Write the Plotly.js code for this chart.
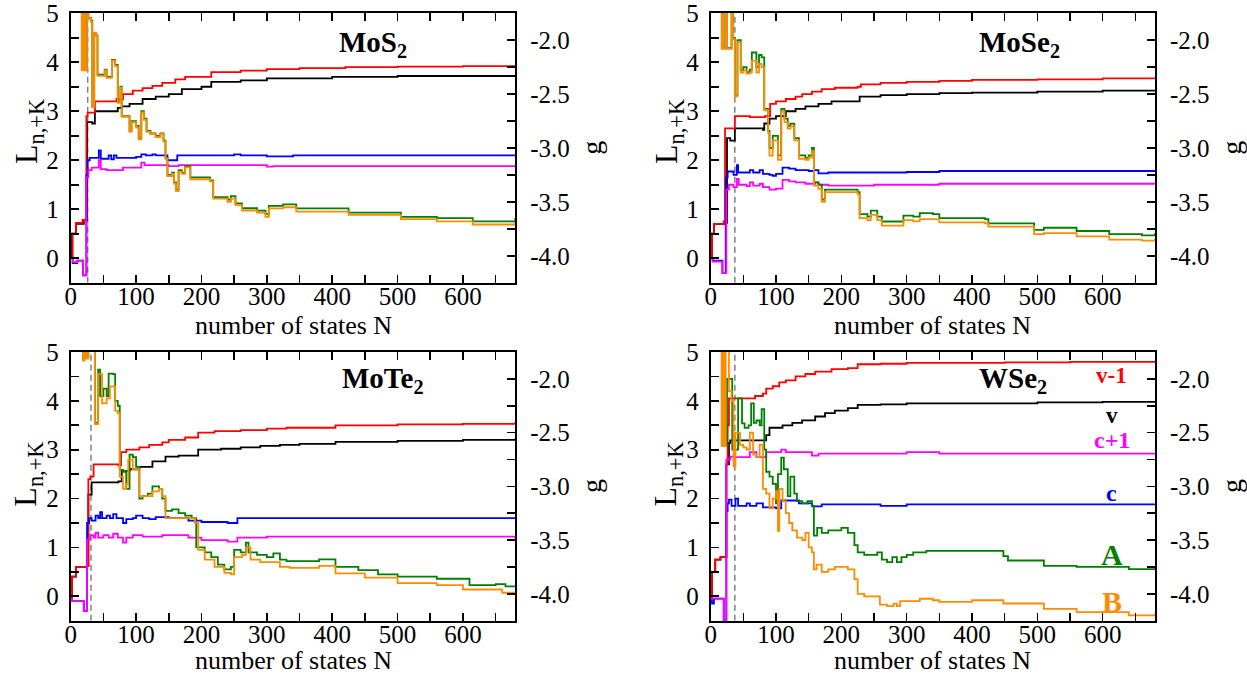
<!DOCTYPE html>
<html>
<head>
<meta charset="utf-8">
<script src="https://cdn.plot.ly/plotly-3.0.1.min.js"></script>
<style>html,body{margin:0;padding:0;background:#fff}#chart{width:1247px;height:677px}</style>
</head>
<body>
<div id="chart"></div>
<script>
// ---------------- DATA ----------------
const panelNames = ['MoS<sub>2</sub>', 'MoSe<sub>2</sub>', 'MoTe<sub>2</sub>', 'WSe<sub>2</sub>'];
const cutoffN = [26, 37, 31, 37];
const seriesLabels = ['v-1', 'v', 'c+1', 'c', 'A', 'B'];
const xTitle = 'number of states N';
const yLeftTitle = 'L<sub>n,+K</sub>';
const yRightTitle = 'g';

const xTickVals = [0, 100, 200, 300, 400, 500, 600];
const xTickText = ['0', '100', '200', '300', '400', '500', '600'];
const xMinorVals = [50, 150, 250, 350, 450, 550, 650];
const lTickVals = [0, 1, 2, 3, 4, 5];
const lTickText = ['0', '1', '2', '3', '4', '5'];
const lMinorVals = [0.5, 1.5, 2.5, 3.5, 4.5];
const gTickVals = [-4.0, -3.5, -3.0, -2.5, -2.0];
const gTickText = ['-4.0', '-3.5', '-3.0', '-2.5', '-2.0'];
const gMinorVals = [-3.75, -3.25, -2.75, -2.25];

// ---- MoS2 ----
const mos2_N_v1 = [0,3,8,18,24,26,37,70,80,95,110,125,140,160,175,215,260,300,350,420,500,600,680];
const mos2_L_v1 = [0,0.5,0.72,0.78,2.9,2.97,3.2,3.25,3.35,3.42,3.47,3.52,3.58,3.65,3.7,3.8,3.83,3.86,3.88,3.9,3.91,3.92,3.93];
const mos2_N_v = [0,2,8,20,25,33,37,72,78,90,110,130,150,170,200,215,260,300,400,500,680];
const mos2_L_v = [0,0.5,0.7,0.78,2.78,2.75,3.0,3.07,3.1,3.15,3.25,3.3,3.35,3.45,3.5,3.6,3.63,3.67,3.7,3.72,3.73];
const mos2_N_c = [0,3,10,19,24,26,29,43,46,58,62,66,70,100,108,115,125,130,148,163,250,260,300,340,680];
const mos2_L_c = [0,-0.1,-0.05,-0.35,1.7,2.0,2.05,2.2,2.03,2.1,2.02,2.1,2.05,2.07,2.12,2.1,2.12,2.1,2.0,2.1,2.12,2.1,2.08,2.1,2.09];
const mos2_N_c1 = [0,3,10,19,24,27,32,43,46,55,80,108,113,150,165,300,310,680];
const mos2_L_c1 = [0,-0.08,-0.05,-0.35,1.65,1.8,1.85,2.0,1.82,1.8,1.85,1.95,1.9,1.88,1.9,1.87,1.88,1.86];
const mos2_N_A = [15,17,20,23,25,27,31,33,36,39,41,52,55,63,68,72,76,78,90,93,100,104,108,112,116,122,130,137,142,145,148,155,158,161,165,170,175,183,213,218,240,245,252,262,285,298,303,325,345,425,505,560,615,670,680];
const mos2_g_A = [-1.5,-2.273,-1.5,-2.273,-1.5,-1.796,-1.819,-2.614,-1.932,-1.955,-2.319,-2.273,-2.341,-2.182,-2.228,-2.569,-2.432,-2.705,-2.841,-2.75,-2.796,-2.909,-2.659,-2.728,-2.841,-2.864,-2.887,-2.864,-2.932,-3.091,-3.25,-3.228,-3.319,-3.387,-3.205,-3.228,-3.169,-3.273,-3.3,-3.455,-3.478,-3.446,-3.514,-3.559,-3.582,-3.614,-3.537,-3.523,-3.56,-3.60,-3.64,-3.65,-3.68,-3.68,-3.65];
const mos2_N_B = [15,17,19,22,25,27,31,33,36,39,41,52,55,63,68,72,76,78,90,93,100,104,108,112,116,122,130,137,142,145,148,155,158,161,165,170,175,183,213,218,240,245,252,262,285,298,303,325,345,425,505,560,615,670,680];
const mos2_g_B = [-1.5,-2.28,-1.5,-2.28,-1.5,-1.80,-1.83,-2.62,-1.93,-1.96,-2.33,-2.28,-2.35,-2.19,-2.24,-2.58,-2.44,-2.71,-2.85,-2.76,-2.81,-2.92,-2.67,-2.74,-2.85,-2.87,-2.90,-2.87,-2.94,-3.10,-3.26,-3.24,-3.33,-3.40,-3.22,-3.24,-3.18,-3.29,-3.31,-3.47,-3.50,-3.47,-3.53,-3.58,-3.60,-3.64,-3.56,-3.55,-3.59,-3.62,-3.66,-3.68,-3.71,-3.71,-3.69];

// ---- MoSe2 ----
const mose2_N_v1 = [0,2,5,20,22,28,37,60,83,91,100,115,130,140,155,170,190,225,230,260,300,350,400,500,600,680];
const mose2_L_v1 = [0,0.5,0.7,0.75,2.65,2.65,2.9,2.88,2.9,3.15,3.2,3.25,3.3,3.35,3.4,3.45,3.48,3.5,3.55,3.58,3.6,3.62,3.64,3.65,3.67,3.68];
const mose2_N_v = [0,2,5,22,25,30,37,80,82,90,100,115,130,145,165,185,228,260,300,350,400,500,600,680];
const mose2_L_v = [0,0.5,0.7,0.72,2.45,2.4,2.65,2.62,2.75,2.85,2.9,3.0,3.05,3.1,3.15,3.2,3.3,3.33,3.35,3.37,3.38,3.4,3.42,3.43];
const mose2_N_c = [0,3,18,23,26,35,40,42,55,60,65,75,80,90,95,100,110,120,130,150,158,165,180,250,300,350,680];
const mose2_L_c = [0,-0.05,-0.3,1.65,1.77,1.7,1.9,1.75,1.75,1.8,1.75,1.8,1.72,1.7,1.68,1.72,1.85,1.83,1.8,1.78,1.8,1.73,1.75,1.75,1.76,1.78,1.79];
const mose2_N_c1 = [0,3,18,24,28,35,40,43,55,60,65,75,80,90,100,110,120,130,145,160,165,180,250,350,680];
const mose2_L_c1 = [0,-0.07,-0.3,1.4,1.5,1.45,1.62,1.5,1.47,1.55,1.48,1.52,1.45,1.4,1.42,1.6,1.57,1.55,1.52,1.55,1.5,1.48,1.5,1.52,1.52];
const mose2_N_A = [16,17,19,20,24,25,32,34,37,41,46,50,55,60,63,70,74,78,82,88,90,95,103,108,113,118,122,128,135,145,150,155,158,165,170,175,225,228,240,245,255,262,290,295,310,320,340,350,420,425,495,510,560,610,660,680];
const mose2_g_A = [-1.5,-2.073,-1.5,-2.073,-1.5,-2.073,-1.5,-1.98,-2.51,-2.0,-2.278,-2.25,-2.296,-2.273,-2.114,-2.25,-2.137,-2.16,-2.637,-2.841,-3.0,-2.887,-3.068,-2.637,-2.728,-2.796,-2.773,-2.909,-3.068,-3.091,-3.068,-3.0,-3.319,-3.341,-3.478,-3.387,-3.409,-3.614,-3.637,-3.582,-3.637,-3.682,-3.682,-3.628,-3.637,-3.605,-3.614,-3.65,-3.66,-3.70,-3.76,-3.74,-3.77,-3.80,-3.81,-3.79];
const mose2_N_B = [16,17,19,20,24,25,32,34,37,41,46,50,55,60,63,70,74,78,82,88,90,95,103,108,113,118,122,128,135,145,150,155,158,165,170,175,225,228,240,245,255,262,290,295,310,320,340,350,420,425,495,510,560,610,660,680];
const mose2_g_B = [-1.5,-2.08,-1.5,-2.08,-1.5,-2.08,-1.5,-1.99,-2.52,-2.02,-2.30,-2.28,-2.31,-2.30,-2.19,-2.30,-2.22,-2.25,-2.65,-2.86,-3.07,-2.93,-3.11,-2.66,-2.76,-2.82,-2.80,-2.93,-3.10,-3.11,-3.09,-3.03,-3.35,-3.38,-3.50,-3.41,-3.43,-3.65,-3.67,-3.62,-3.67,-3.72,-3.72,-3.67,-3.68,-3.66,-3.66,-3.69,-3.70,-3.73,-3.80,-3.79,-3.82,-3.85,-3.86,-3.84];

// ---- MoTe2 ----
const mote2_N_v1 = [0,2,8,25,27,30,35,73,77,85,105,120,140,150,175,195,220,260,300,330,405,500,600,680];
const mote2_L_v1 = [0,0.4,0.6,0.62,2.4,2.45,2.7,2.68,2.95,3.0,3.05,3.1,3.15,3.2,3.25,3.35,3.38,3.4,3.43,3.45,3.5,3.52,3.53,3.57];
const mote2_N_v = [0,2,8,25,27,32,73,78,90,105,125,145,165,195,230,260,290,320,350,405,500,600,680];
const mote2_L_v = [0,0.4,0.6,0.62,2.08,2.33,2.35,2.56,2.6,2.65,2.76,2.86,2.88,3.0,3.02,3.05,3.08,3.1,3.12,3.16,3.18,3.2,3.23];
const mote2_N_c = [0,2,20,25,28,32,38,42,45,48,55,60,65,70,80,85,95,100,110,120,130,150,180,200,240,255,680];
const mote2_L_c = [0,-0.1,-0.3,1.5,1.6,1.55,1.65,1.6,1.72,1.6,1.65,1.6,1.68,1.6,1.5,1.58,1.6,1.65,1.6,1.58,1.62,1.6,1.55,1.52,1.5,1.6,1.59];
const mote2_N_c1 = [0,2,20,25,30,35,38,42,50,58,65,72,80,85,95,110,140,180,200,240,255,300,680];
const mote2_L_c1 = [0,-0.1,-0.3,1.16,1.25,1.2,1.3,1.2,1.25,1.2,1.28,1.2,1.1,1.2,1.25,1.22,1.25,1.2,1.15,1.12,1.2,1.22,1.19];
const mote2_N_A = [15,19,21,24,27,37,42,45,50,55,58,65,68,72,75,80,85,90,95,100,105,110,118,125,135,140,145,155,165,175,185,192,205,215,225,235,245,250,260,268,272,285,300,310,320,330,380,405,440,470,500,530,560,610,650,665,680];
const mote2_g_A = [-1.5,-1.819,-1.5,-1.796,-1.5,-2.409,-1.914,-2.159,-2.091,-2.159,-1.95,-1.955,-2.205,-2.25,-2.846,-2.864,-3.023,-2.705,-2.728,-2.819,-3.114,-3.091,-3.068,-3.0,-3.023,-3.114,-3.228,-3.214,-3.25,-3.273,-3.296,-3.568,-3.614,-3.659,-3.728,-3.773,-3.75,-3.591,-3.614,-3.523,-3.614,-3.637,-3.659,-3.623,-3.682,-3.696,-3.68,-3.75,-3.78,-3.82,-3.84,-3.84,-3.86,-3.92,-3.91,-3.93,-3.93];
const mote2_N_B = [15,19,21,24,27,37,42,48,55,60,68,72,75,80,85,88,95,105,115,125,135,140,145,190,195,205,220,235,245,250,262,268,275,290,310,320,335,380,405,450,500,560,600,660,680];
const mote2_g_B = [-1.5,-1.83,-1.5,-1.81,-1.5,-2.42,-1.955,-2.228,-2.182,-2.069,-2.296,-2.319,-2.909,-3.023,-2.977,-2.75,-2.841,-3.091,-3.091,-3.046,-3.023,-3.091,-3.296,-3.341,-3.591,-3.682,-3.75,-3.805,-3.819,-3.659,-3.637,-3.568,-3.682,-3.705,-3.705,-3.75,-3.759,-3.74,-3.81,-3.85,-3.90,-3.92,-3.96,-3.99,-4.01];

// ---- WSe2 ----
const wse2_N_v1 = [0,2,7,15,24,26,28,55,68,80,85,95,105,115,130,145,160,185,210,225,260,300,350,450,550,680];
const wse2_L_v1 = [0,0.5,0.75,0.8,2.7,3.5,4.05,4.05,4.1,4.15,4.25,4.3,4.38,4.42,4.5,4.55,4.6,4.65,4.67,4.75,4.76,4.78,4.78,4.79,4.8,4.81];
const wse2_N_v = [0,2,7,15,24,28,30,85,90,110,125,140,160,175,190,210,225,260,300,400,500,600,680];
const wse2_L_v = [0,0.5,0.75,0.8,2.7,3.14,3.19,3.3,3.45,3.5,3.55,3.6,3.68,3.75,3.8,3.85,3.92,3.93,3.95,3.95,3.97,3.98,3.99];
const wse2_N_c = [0,2,5,20,24,26,28,32,38,42,55,60,70,80,100,108,135,155,170,260,300,680];
const wse2_L_c = [0,-0.15,-0.05,-0.5,1.75,1.9,1.98,1.85,2.0,1.85,1.9,1.85,1.9,1.82,1.8,1.96,1.9,1.84,1.88,1.85,1.88,1.89];
const wse2_N_c1 = [0,2,20,24,30,35,60,70,85,108,115,155,165,300,350,680];
const wse2_L_c1 = [0,-0.05,-0.5,2.8,2.86,2.85,2.95,2.85,2.95,3.0,2.95,2.88,2.92,2.95,2.92,2.9];
const wse2_N_A = [15,17,19,22,25,33,42,48,52,58,62,66,70,75,78,82,85,90,95,100,103,108,112,118,122,128,132,140,148,155,158,163,170,180,200,210,220,225,235,255,262,270,278,285,292,300,310,330,448,455,510,560,640,680];
const wse2_g_A = [-1.5,-2.62,-1.5,-2.62,-2.0,-2.659,-2.182,-2.414,-2.455,-2.432,-2.228,-2.409,-2.387,-2.432,-2.282,-2.659,-2.864,-2.909,-2.977,-3.159,-2.887,-2.732,-2.841,-3.091,-2.909,-3.068,-3.137,-3.159,-3.137,-3.182,-3.459,-3.387,-3.432,-3.409,-3.387,-3.432,-3.546,-3.614,-3.637,-3.614,-3.682,-3.705,-3.659,-3.705,-3.659,-3.637,-3.614,-3.60,-3.65,-3.69,-3.74,-3.75,-3.77,-3.76];
const wse2_N_B = [15,17,19,21,23,28,32,35,38,45,50,55,60,65,70,75,80,85,90,95,100,103,105,110,115,120,125,132,140,145,150,155,158,162,170,180,190,210,220,225,235,259,270,280,285,290,320,340,350,400,448,510,560,640,680];
const wse2_g_B = [-1.5,-2.62,-1.5,-2.62,-1.5,-2.114,-2.205,-2.814,-2.5,-2.614,-2.637,-2.659,-2.5,-2.705,-2.728,-2.614,-3.023,-3.068,-3.205,-3.114,-3.046,-3.414,-3.023,-3.137,-3.25,-3.341,-3.409,-3.478,-3.5,-3.432,-3.568,-3.614,-3.773,-3.728,-3.796,-3.773,-3.75,-3.773,-3.864,-4.0,-4.023,-4.1,-4.114,-4.091,-4.114,-4.068,-4.046,-4.06,-4.075,-4.06,-4.09,-4.14,-4.17,-4.20,-4.18];

// ---------------- STYLE / BUILD ----------------
const colors = {v1: '#ff0000', v: '#000000', c: '#0000ff', c1: '#ff00ff', A: '#008000', B: '#ff8c00'};
const FONT = 'Liberation Serif';

const panels = [
  {v1: [mos2_N_v1, mos2_L_v1], v: [mos2_N_v, mos2_L_v], c: [mos2_N_c, mos2_L_c], c1: [mos2_N_c1, mos2_L_c1], A: [mos2_N_A, mos2_g_A], B: [mos2_N_B, mos2_g_B]},
  {v1: [mose2_N_v1, mose2_L_v1], v: [mose2_N_v, mose2_L_v], c: [mose2_N_c, mose2_L_c], c1: [mose2_N_c1, mose2_L_c1], A: [mose2_N_A, mose2_g_A], B: [mose2_N_B, mose2_g_B]},
  {v1: [mote2_N_v1, mote2_L_v1], v: [mote2_N_v, mote2_L_v], c: [mote2_N_c, mote2_L_c], c1: [mote2_N_c1, mote2_L_c1], A: [mote2_N_A, mote2_g_A], B: [mote2_N_B, mote2_g_B]},
  {v1: [wse2_N_v1, wse2_L_v1], v: [wse2_N_v, wse2_L_v], c: [wse2_N_c, wse2_L_c], c1: [wse2_N_c1, wse2_L_c1], A: [wse2_N_A, wse2_g_A], B: [wse2_N_B, wse2_g_B]}
];

const xDomains = [[0.0567, 0.4132], [0.5699, 0.9262], [0.0567, 0.4132], [0.5699, 0.9262]];
const yDomains = [[0.5824, 0.9804], [0.5824, 0.9804], [0.0832, 0.48], [0.0832, 0.48]];
// paper positions of axis titles
const xTitlePos = [[0.235, 0.5185, 'middle'], [0.748, 0.5185, 'middle'], [0.235, 0.0, 'bottom'], [0.748, 0.0, 'bottom']];
const yLeftTitlePos = [[0.0225, 0.805], [0.5357, 0.805], [0.0225, 0.299], [0.5357, 0.299]];
const yRightTitlePos = [[0.4745, 0.7814], [0.9877, 0.7814], [0.4745, 0.2816], [0.9877, 0.2816]];
const panelTitlePos = [[0.68, 0.885], [0.696, 0.885], [0.703, 0.895], [0.68, 0.895]];

const traces = [];
const layout = {
  width: 1247, height: 677,
  margin: {l: 0, r: 0, t: 0, b: 0},
  paper_bgcolor: '#ffffff', plot_bgcolor: 'rgba(0,0,0,0)',
  showlegend: false,
  font: {family: FONT, size: 25, color: '#000'},
  annotations: []
};

function lineTrace(xs, ys, xa, ya, color, dash, width) {
  return {x: xs, y: ys, xaxis: xa, yaxis: ya, type: 'scatter', mode: 'lines',
    line: {color: color, width: width || 1.8, shape: dash ? 'linear' : 'hv', dash: dash || 'solid'},
    hoverinfo: 'skip'};
}
function ann(text, x, y, size, color, angle, extra) {
  return Object.assign({xref: 'paper', yref: 'paper', x: x, y: y, text: text, showarrow: false,
    xanchor: 'center', yanchor: 'middle', textangle: angle || 0,
    font: {family: FONT, size: size, color: color || '#000'}}, extra || {});
}

panels.forEach((p, i) => {
  const xa = 'x' + (i === 0 ? '' : i + 1);
  const yl = 'y' + (i === 0 ? '' : 2 * i + 1);
  const yr = 'y' + (2 * i + 2);
  const xk = 'xaxis' + (i === 0 ? '' : i + 1);
  const ylk = 'yaxis' + (i === 0 ? '' : 2 * i + 1);
  const yrk = 'yaxis' + (2 * i + 2);

  traces.push(lineTrace([cutoffN[i], cutoffN[i]], [-0.5, 5], xa, yl, '#808080', '6px,4px', 1.5));
  traces.push(lineTrace(p.v[0], p.v[1], xa, yl, colors.v));
  traces.push(lineTrace(p.v1[0], p.v1[1], xa, yl, colors.v1));
  traces.push(lineTrace(p.c[0], p.c[1], xa, yl, colors.c));
  traces.push(lineTrace(p.c1[0], p.c1[1], xa, yl, colors.c1));
  traces.push(lineTrace(p.A[0], p.A[1], xa, yr, colors.A));
  traces.push(lineTrace(p.B[0], p.B[1], xa, yr, colors.B));

  const common = {showgrid: false, zeroline: false, showline: true, linecolor: '#000', linewidth: 2,
    ticks: 'inside', ticklen: 8, tickwidth: 1.6, tickcolor: '#000',
    tickfont: {family: FONT, size: 25, color: '#000'}, fixedrange: true, tickmode: 'array'};
  const minor = (vals) => ({tickmode: 'array', tickvals: vals, ticks: 'inside', ticklen: 8, tickwidth: 1.6, tickcolor: '#000', showgrid: false});

  layout[xk] = Object.assign({}, common, {
    domain: xDomains[i], anchor: yl, range: [0, 680], mirror: 'ticks',
    tickvals: xTickVals, ticktext: xTickText, minor: minor(xMinorVals), ticklabelstandoff: -10
  });
  layout[ylk] = Object.assign({}, common, {
    domain: yDomains[i], anchor: xa, range: [-0.5, 5],
    tickvals: lTickVals, ticktext: lTickText, minor: minor(lMinorVals), ticklabelstandoff: 5
  });
  layout[yrk] = Object.assign({}, common, {
    overlaying: yl, side: 'right', anchor: xa, range: [-4.25, -1.75],
    tickvals: gTickVals, ticktext: gTickText, minor: minor(gMinorVals), ticklabelstandoff: 8
  });

  layout.annotations.push(ann(xTitle, xTitlePos[i][0], xTitlePos[i][1], 26, '#000', 0, {yanchor: xTitlePos[i][2]}));
  layout.annotations.push(ann(yLeftTitle, yLeftTitlePos[i][0], yLeftTitlePos[i][1], 32, '#000', -90));
  layout.annotations.push(ann(yRightTitle, yRightTitlePos[i][0], yRightTitlePos[i][1], 28, '#000', -90));
  layout.annotations.push(ann('<b>' + panelNames[i] + '</b>', panelTitlePos[i][0], panelTitlePos[i][1], 29, '#000', 0,
    {xref: xa + ' domain', yref: yl + ' domain'}));
});

// WSe2 series labels
const labelY = [0.911, 0.764, 0.673, 0.475, 0.245, 0.073];
const labelColors = [colors.v1, colors.v, colors.c1, colors.c, colors.A, colors.B];
const labelSizes = [23, 23, 24, 24, 30, 30];
seriesLabels.forEach((t, k) => {
  layout.annotations.push(ann('<b>' + t + '</b>', 0.903, labelY[k], labelSizes[k], labelColors[k], 0,
    {xref: 'x4 domain', yref: 'y7 domain'}));
});

Plotly.newPlot('chart', traces, layout, {displayModeBar: false, staticPlot: true});
</script>
</body>
</html>
